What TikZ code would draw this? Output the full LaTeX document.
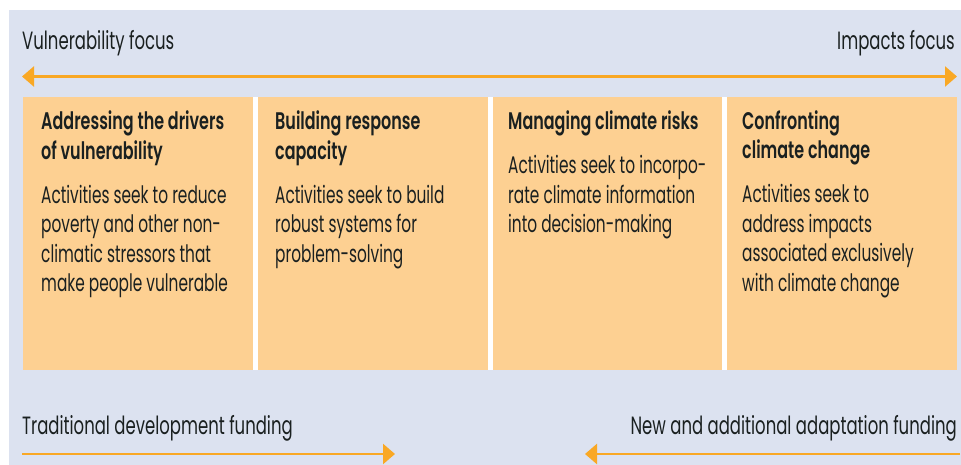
\documentclass[tikz,border=0pt]{standalone}
\usepackage{fontspec}
\setmainfont{Poppins}[FakeStretch=0.64]
\newfontfamily\headfont{Poppins SemiBold}[FakeStretch=0.665]
\newfontfamily\outerfont{Poppins}[FakeStretch=0.66]
\usetikzlibrary{arrows.meta}
\definecolor{bgblue}{RGB}{220,226,240}
\definecolor{boxorange}{RGB}{253,208,146}
\definecolor{arrorange}{RGB}{249,168,37}
\definecolor{ink}{RGB}{26,32,32}
\begin{document}
\begin{tikzpicture}[x=1pt,y=-1pt,
  lbl/.style={inner sep=0pt, text=ink, font=\fontsize{24}{29.5}\selectfont},
  outer/.style={inner sep=0pt, text=ink, font=\outerfont\fontsize{25}{29.5}\selectfont},
  headtxt/.style={lbl, font=\headfont\fontsize{24}{29.5}\selectfont, align=left, anchor=base west},
  bodytxt/.style={lbl, align=left, anchor=base west},
  panel/.style={fill=boxorange, draw=none},
  arr/.style={draw=arrorange, line width=2.5pt, -{Triangle[length=12pt,width=20pt]}}]
\useasboundingbox (0,0) rectangle (961,465);
\fill[white] (0,0) rectangle (961,465);
\fill[bgblue] (9,10) rectangle (961,465);
% panels
\fill[white] (252,97.5) rectangle (727,370);
\fill[panel] (22.5,97.5) rectangle (253,370);
\fill[panel] (258,97.5) rectangle (487.5,370);
\fill[panel] (492.5,97.5) rectangle (721.5,370);
\fill[panel] (726.5,97.5) rectangle (957,370);
% top labels and arrow
\node[outer, anchor=base west] (vf) at (22,50) {Vulnerability focus};
\node[outer, anchor=base east] (if) at (955,50) {Impacts focus};
\coordinate (tl) at (22,76.5);
\coordinate (tr) at (957,76.5);
\draw[arr, {Triangle[length=12pt,width=20pt]}-{Triangle[length=12pt,width=20pt]}] (tl) -- (tr);
% panel texts (base anchor = baseline of last line)
\node[headtxt] (h1) at (41,159.5) {Addressing the drivers\\of vulnerability};
\node[bodytxt] (b1) at (41,291.5) {Activities seek to reduce\\poverty and other non-\\climatic stressors that\\make people vulnerable};
\node[headtxt] (h2) at (275,159.5) {Building response\\capacity};
\node[bodytxt] (b2) at (275,262) {Activities seek to build\\robust systems for\\problem-solving};
\node[headtxt] (h3) at (508,130) {Managing climate risks};
\node[bodytxt] (b3) at (508,233) {Activities seek to incorpo-\\rate climate information\\into decision-making};
\node[headtxt] (h4) at (742,159) {Confronting\\climate change};
\node[bodytxt] (b4) at (742,291) {Activities seek to\\address impacts\\associated exclusively\\with climate change};
% bottom labels and arrows
\node[outer, anchor=base west] (tdf) at (22,434) {Traditional development funding};
\node[outer, anchor=base east] (naf) at (957,434) {New and additional adaptation funding};
\coordinate (bl1) at (22,454);
\coordinate (bl2) at (395,454);
\coordinate (br1) at (960,454);
\coordinate (br2) at (585,454);
\draw[arr] (bl1) -- (bl2);
\draw[arr] (br1) -- (br2);
\end{tikzpicture}
\end{document}
